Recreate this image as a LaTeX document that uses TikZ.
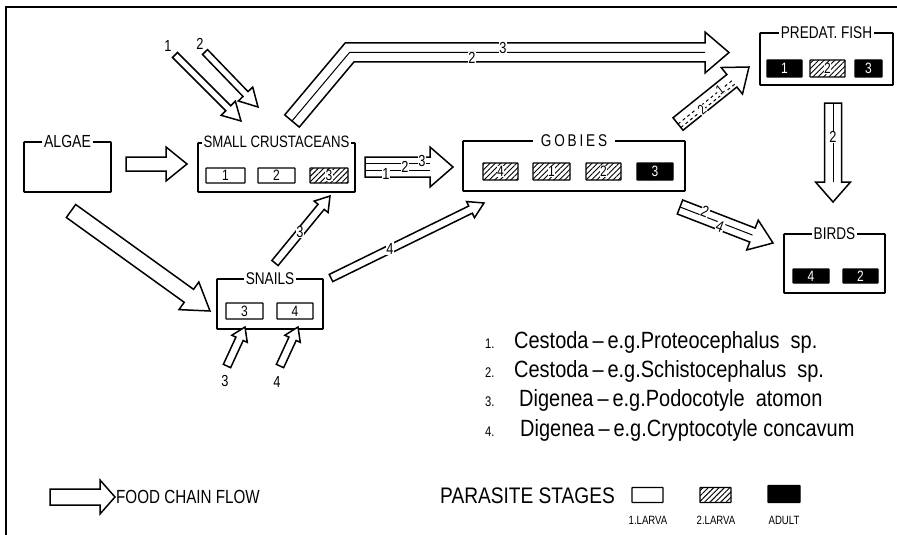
\documentclass[tikz,border=0pt]{standalone}
\usepackage{fontspec}
\setmainfont{Liberation Sans}
\newfontfamily\lab[FakeStretch=0.8]{Liberation Sans}
\newfontfamily\lst[FakeStretch=0.85]{Liberation Sans}
\usetikzlibrary{calc,patterns,patterns.meta}
\newcommand{\fs}[1]{\fontsize{#1}{#1}\selectfont}
% hollow arrow: [opts]{from}{to}{half shaft}{half head}{head length}
\newcommand{\fatarrow}[6][]{%
 \coordinate (fa-h) at ($(#3)!#6!(#2)$);
 \draw[arr,#1] ($(#2)!#4!90:(#3)$) -- ($(fa-h)!#4!-90:(#2)$) -- ($(fa-h)!#5!-90:(#2)$) -- (#3)
   -- ($(fa-h)!#5!90:(#2)$) -- ($(fa-h)!#4!90:(#2)$) -- ($(#2)!#4!-90:(#3)$) -- cycle;}
% inner line of the last hollow arrow: [opts]{from}{to}{offset}{angle}
\newcommand{\stripe}[5][]{%
 \draw[line width=1pt,#1] ($(#2)!#4!#5:(#3)$) -- ($(fa-h)!#4!#5:(#3)$);}
\begin{document}
\begin{tikzpicture}[x=1pt,y=-1pt,
 arr/.style={draw, fill=white, line width=1.5pt, line join=miter},
 box/.style={draw, line width=1.7pt, inner sep=0pt, rounded corners=0.6pt},
 ttl/.style={fill=white, inner xsep=2pt, inner ysep=1pt, font=\lab\fs{16.5}},
 stg/.style={draw, line width=1.3pt, inner sep=0pt, rounded corners=0.5pt, font=\lab\fs{15}},
 hat/.style={stg, pattern={Lines[angle=45, distance=3.8pt, line width=0.9pt]}},
 adl/.style={stg, fill=black, text=white},
 dig/.style={fill=white, inner xsep=0.6pt, inner ysep=0.3pt, font=\lab\fs{15}},
 num/.style={font=\lab\fs{16}, inner sep=0.5pt},
 numw/.style={num, fill=white},
 ltxt/.style={anchor=west, inner sep=0pt, font=\lst\fs{23.5}},
 lnum/.style={anchor=west, inner sep=0pt, font=\lab\fs{14}},
]
\useasboundingbox (0,0) rectangle (897,535);
\draw[line width=2.6pt] (6,535) -- (6,7) -- (897,7);

% ---------- boxes ----------
\node[box, minimum width=87pt, minimum height=50pt] (algae) at (67.5,167) {};
\node[ttl, font=\lab\fs{17.5}] at (algae.north) {ALGAE};

\node[box, minimum width=157pt, minimum height=49pt] (crust) at (276.5,167.5) {};
\node[ttl] at (crust.north) {SMALL CRUSTACEANS};
\node[stg, minimum width=39pt, minimum height=15pt] (c1) at (225.5,175.5) {1};
\node[stg, minimum width=37pt, minimum height=15pt] (c2) at (276.5,175.5) {2};
\node[hat, minimum width=38pt, minimum height=15pt] (c3) at (329,175.5) {};
\node[dig] at (c3) {3};

\node[box, minimum width=106pt, minimum height=50pt] (snails) at (270,304) {};
\node[ttl, font=\lab\fs{17}] at (snails.north) {SNAILS};
\node[stg, minimum width=37pt, minimum height=16pt] (s3) at (244.5,311) {3};
\node[stg, minimum width=36pt, minimum height=16pt] (s4) at (295,311) {4};

\node[box, minimum width=222pt, minimum height=50pt] (gobies) at (574,166) {};
\node[ttl, inner xsep=8pt, font=\lab\fs{17}] at (gobies.north) {G\,O\,B\,I\,E\,S};
\node[hat, minimum width=35pt, minimum height=17pt] (g4) at (500.5,171.5) {};
\node[dig] at (g4) {4};
\node[hat, minimum width=37pt, minimum height=17pt] (g1) at (551.5,171.5) {};
\node[dig] at (g1) {1};
\node[hat, minimum width=35pt, minimum height=17pt] (g2) at (603.5,171.5) {};
\node[dig] at (g2) {2};
\node[adl, minimum width=36pt, minimum height=17pt] (g3) at (655,171.5) {3};

\node[box, minimum width=133pt, minimum height=52pt] (fish) at (826.5,59) {};
\node[ttl, font=\lab\fs{17}] at (fish.north) {PREDAT.\ FISH};
\node[adl, minimum width=35pt, minimum height=17pt] (f1) at (784.5,68.5) {1};
\node[hat, minimum width=35pt, minimum height=17pt] (f2) at (827.5,68.5) {};
\node[dig] at (f2) {2};
\node[adl, minimum width=27pt, minimum height=17pt] (f3) at (868.5,68.5) {3};

\node[box, minimum width=101pt, minimum height=59pt] (birds) at (834.5,263.5) {};
\node[ttl, font=\lab\fs{17}] at (birds.north) {BIRDS};
\node[adl, minimum width=36pt, minimum height=14pt] (b4) at (811,276) {4};
\node[adl, minimum width=35pt, minimum height=14pt] (b2) at (860.5,276) {2};

% ---------- arrows ----------
\coordinate (ac-s) at (126,164); \coordinate (ac-e) at (187,164);
\fatarrow{ac-s}{ac-e}{7pt}{17pt}{21pt}

\coordinate (as-s) at (71,211); \coordinate (as-e) at (210,311);
\fatarrow{as-s}{as-e}{8pt}{17pt}{26pt}

\coordinate (p1-s) at (175,55); \coordinate (p1-e) at (241,121);
\fatarrow{p1-s}{p1-e}{3.5pt}{10pt}{18pt}
\node[num] at (168,46) {1};
\coordinate (p2-s) at (205,52); \coordinate (p2-e) at (258,107);
\fatarrow{p2-s}{p2-e}{3.5pt}{10pt}{18pt}
\node[num] at (200,44) {2};

% bent arrow crustaceans -> predatory fish
\coordinate (bt-s) at (292,121); \coordinate (bt-k) at (349.5,52.5); \coordinate (bt-e) at (729,52.5);
\draw[arr] (284.7,114.9) -- (345.1,43) -- (705,43) -- (705,32) -- (bt-e) -- (705,73)
  -- (705,62) -- (353.9,62) -- (299.3,127.1) -- cycle;
\draw[line width=1pt] (bt-s) -- (bt-k) -- (705,52.5);
\node[numw] at (503,48) {3};
\node[numw] at (472,58) {2};

% crustaceans -> gobies
\coordinate (cg-s) at (365,167); \coordinate (cg-e) at (453,167);
\fatarrow{cg-s}{cg-e}{10pt}{20pt}{23pt}
\stripe{cg-s}{cg-e}{3.3pt}{90}
\stripe{cg-s}{cg-e}{3.3pt}{-90}
\node[numw] at (422,160.5) {3};
\node[numw] at (405,167) {2};
\node[numw] at (386,173.5) {1};

% snails -> crustaceans
\coordinate (sc-s) at (275,263); \coordinate (sc-e) at (330,196);
\fatarrow{sc-s}{sc-e}{4pt}{9pt}{14pt}
\node[numw] at (300,232) {3};

% snails -> gobies
\coordinate (sg-s) at (331,278); \coordinate (sg-e) at (484,203);
\fatarrow{sg-s}{sg-e}{4pt}{9pt}{15pt}
\node[numw] at (390,248.5) {4};

% into snails
\coordinate (i3-s) at (227,366); \coordinate (i3-e) at (245,327);
\fatarrow{i3-s}{i3-e}{4pt}{8.5pt}{13pt}
\node[num] at (225,381) {3};
\coordinate (i4-s) at (280,366); \coordinate (i4-e) at (298,327);
\fatarrow{i4-s}{i4-e}{4pt}{8.5pt}{13pt}
\node[num] at (277,382) {4};

% gobies -> predatory fish
\coordinate (gf-s) at (678,124); \coordinate (gf-e) at (749,67);
\fatarrow{gf-s}{gf-e}{8pt}{17pt}{22pt}
\stripe[dashed]{gf-s}{gf-e}{0pt}{90}
\stripe[dashed]{gf-s}{gf-e}{4.5pt}{-90}
\node[numw, rotate=39, font=\lab\fs{14}] at (720,90) {1};
\node[numw, rotate=39, font=\lab\fs{14}] at (702,110) {2};

% predatory fish -> birds
\coordinate (fb-s) at (833,103); \coordinate (fb-e) at (833,202);
\fatarrow{fb-s}{fb-e}{8.5pt}{17.5pt}{20pt}
\stripe{fb-s}{fb-e}{0pt}{90}
\node[numw] at (833,137) {2};

% gobies -> birds
\coordinate (gb-s) at (680,207); \coordinate (gb-e) at (773,243);
\fatarrow{gb-s}{gb-e}{7.5pt}{16pt}{22pt}
\stripe{gb-s}{gb-e}{0pt}{90}
\node[numw, rotate=-21] at (705,212) {2};
\node[numw, rotate=-21] at (720,227) {4};

% ---------- key of parasites ----------
\node[lnum] (k1) at (485,344) {1.};
\node[ltxt] at (514,342) {Cestoda\,–\,e.g.Proteocephalus\ \ sp.};
\node[lnum] (k2) at (485,373) {2.};
\node[ltxt] at (514,371) {Cestoda\,–\,e.g.Schistocephalus\ \ sp.};
\node[lnum] (k3) at (485,402) {3.};
\node[ltxt] at (519,400) {Digenea\,–\,e.g.Podocotyle\ \ atomon};
\node[lnum] (k4) at (485,432) {4.};
\node[ltxt] at (520,430) {Digenea\,–\,e.g.Cryptocotyle concavum};

% ---------- bottom legend ----------
\coordinate (lg-s) at (50,497); \coordinate (lg-e) at (115,497);
\fatarrow{lg-s}{lg-e}{8pt}{17pt}{15pt}
\node[anchor=west, inner sep=0pt, font=\lab\fs{19}] (fcf) at (116,497) {FOOD CHAIN FLOW};
\node[anchor=west, inner sep=0pt, font=\lst\fs{22.5}] (ps) at (440,496) {PARASITE STAGES};
\node[stg, minimum width=31pt, minimum height=15pt] (l1) at (647.5,495) {};
\node[hat, minimum width=31pt, minimum height=15pt] (l2) at (715.5,495) {};
\node[adl, minimum width=32pt, minimum height=17pt] (l3) at (784,494) {};
\node[font=\lab\fs{12}] at (648,520) {1.LARVA};
\node[font=\lab\fs{12}] at (716,520) {2.LARVA};
\node[font=\lab\fs{12}] at (784,520) {ADULT};
\end{tikzpicture}
\end{document}
